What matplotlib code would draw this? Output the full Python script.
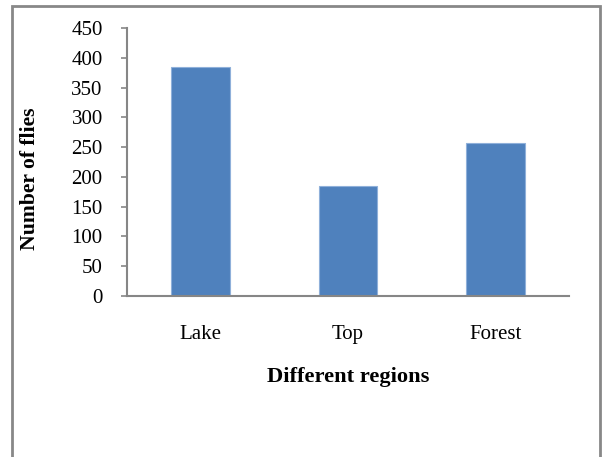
import matplotlib
matplotlib.use("Agg")
import matplotlib.pyplot as plt
from matplotlib.patches import Rectangle

categories = ["Lake", "Top", "Forest"]
values = [384, 185, 257]
yticks = [0, 50, 100, 150, 200, 250, 300, 350, 400, 450]

plt.rcParams['font.family'] = ['Liberation Serif', 'DejaVu Serif']

W, H = 606, 457
FS = 15
fig = plt.figure(figsize=(W / 100, H / 100), dpi=100)
ax = fig.add_axes([127 / W, 1 - 296 / H, (569 - 127) / W, (296 - 28) / H])

x = list(range(len(categories)))
ax.bar(x, values, width=0.4, color="#4F81BD", edgecolor="#8FB0DA", linewidth=0.8)

ax.set_xlim(-0.5, len(categories) - 0.5)
ax.set_ylim(0, 450)
ax.set_yticks(yticks)
ax.set_yticklabels([str(v) for v in yticks], fontsize=FS)
ax.set_xticks(x)
ax.set_xticklabels(categories, fontsize=FS)

for s in ["top", "right"]:
    ax.spines[s].set_visible(False)
for s in ["left", "bottom"]:
    ax.spines[s].set_color("#868686")
    ax.spines[s].set_linewidth(1.5)

ax.tick_params(axis="y", direction="out", length=4, width=1.2, color="#868686", pad=13.5)
ax.tick_params(axis="x", length=0, pad=21)

ax.set_xlabel("Different regions", fontsize=16.2, fontweight="bold", labelpad=16.5)
ax.set_ylabel("Number of flies", fontsize=15.6, fontweight="bold")
ax.yaxis.set_label_coords((40 - 127) / 442, (296 - 178.5) / 268)

border = Rectangle((11.5 / W, -0.1), (599.5 - 11.5) / W, 1.1 - 6.5 / H,
                   transform=fig.transFigure, fill=False, edgecolor="#888888",
                   linewidth=2, clip_on=False)
fig.patches.append(border)

fig.savefig("out.png", dpi=100)
